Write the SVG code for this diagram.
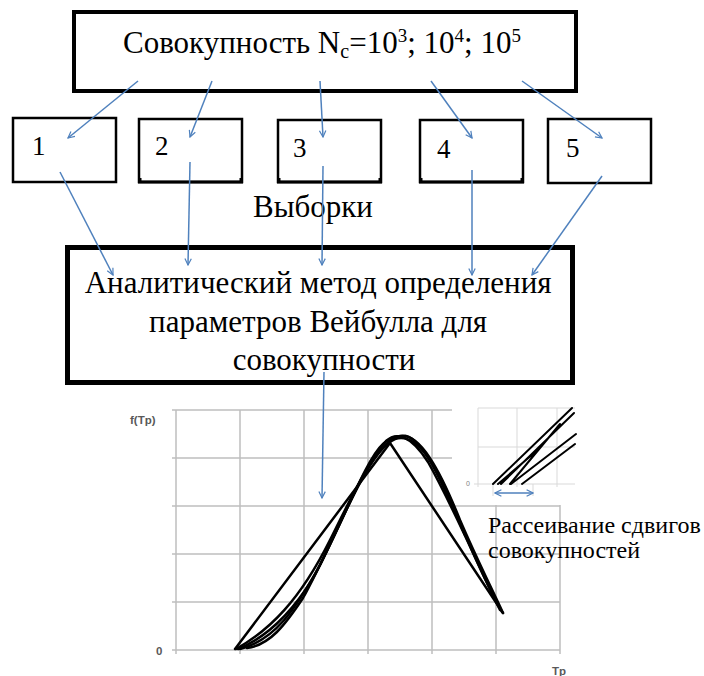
<svg xmlns="http://www.w3.org/2000/svg" width="704" height="676" viewBox="0 0 704 676">
<style>
.ser{font-family:'Liberation Serif','Times New Roman',serif;fill:#000}
.box{fill:#fff;stroke:#000}
.con{fill:none;stroke:#4f81bd;stroke-width:1.5}
.grid{fill:none;stroke:#bfbfbf;stroke-width:1.5}
.igrid{fill:none;stroke:#d9d9d9;stroke-width:1}
.crv{fill:none;stroke:#000;stroke-width:2.5;stroke-linejoin:round;stroke-linecap:round}
.ax{font-family:'Liberation Sans',Arial,sans-serif;font-weight:bold;fill:#595959}
</style>
<defs>
<marker id="ah" viewBox="0 0 10 10" refX="9" refY="5" markerWidth="8" markerHeight="8" orient="auto-start-reverse" markerUnits="userSpaceOnUse">
<path d="M1,1 L9,5 L1,9" fill="none" stroke="#4f81bd" stroke-width="1.5"/>
</marker>
</defs>
<rect width="704" height="676" fill="#fff"/>

<g id="top">
<rect class="box" x="74" y="12" width="502" height="79" stroke-width="4"/>
<text class="ser" font-family="Liberation Serif, Times New Roman, serif" x="123" y="53" font-size="31">Совокупность N<tspan font-size="20" dy="5">c</tspan><tspan dy="-5">=10</tspan><tspan font-size="19" dy="-11">3</tspan><tspan dy="11">; 10</tspan><tspan font-size="19" dy="-11">4</tspan><tspan dy="11">; 10</tspan><tspan font-size="19" dy="-11">5</tspan></text>
</g>

<g id="s1">
<rect class="box" x="13" y="118" width="103" height="64" stroke-width="2.5"/>
<text class="ser" font-family="Liberation Serif, Times New Roman, serif" x="32" y="155" font-size="27">1</text>
</g>
<g id="s2">
<rect class="box" x="139" y="119" width="103" height="63" stroke-width="2.5"/>
<path d="M138,182 H243 M140,178 V182 M241,178 V182" stroke="#000" stroke-width="3" fill="none"/>
<text class="ser" font-family="Liberation Serif, Times New Roman, serif" x="155" y="155" font-size="27">2</text>
</g>
<g id="s3">
<rect class="box" x="278" y="120" width="103" height="62" stroke-width="2.5"/>
<path d="M277,182 H382 M279,178 V182 M380,178 V182" stroke="#000" stroke-width="3" fill="none"/>
<text class="ser" font-family="Liberation Serif, Times New Roman, serif" x="293" y="157" font-size="27">3</text>
</g>
<g id="s4">
<rect class="box" x="420" y="120" width="103" height="62" stroke-width="2.5"/>
<path d="M419,182 H524 M421,178 V182 M522,178 V182" stroke="#000" stroke-width="3" fill="none"/>
<text class="ser" font-family="Liberation Serif, Times New Roman, serif" x="437" y="158" font-size="27">4</text>
</g>
<g id="s5">
<rect class="box" x="548" y="119" width="103" height="64" stroke-width="2.5"/>
<text class="ser" font-family="Liberation Serif, Times New Roman, serif" x="566" y="157" font-size="27">5</text>
</g>

<text id="samples" class="ser" font-family="Liberation Serif, Times New Roman, serif" x="253" y="217" font-size="31">Выборки</text>

<g id="method">
<rect class="box" x="67.5" y="247.5" width="505" height="135" stroke-width="5"/>
<text class="ser" font-family="Liberation Serif, Times New Roman, serif" font-size="31" text-anchor="middle">
<tspan x="322" y="293">Аналитический метод определения</tspan>
<tspan x="322" y="332">параметров Вейбулла для</tspan>
<tspan x="324" y="370">совокупности</tspan>
</text>
</g>

<g id="chart">
<path class="grid" d="M176,410 V654 M240,410 V654 M304,410 V654 M368,410 V654 M432,410 V654 M496,505 V654 M560,505 V654 M172,410 H452 M172,458 H452 M172,506 H560 M172,554 H560 M172,602 H560 M172,650 H560"/>
<text class="ax" x="130" y="424" font-size="11.5">f(Tp)</text>
<text class="ax" x="156" y="655" font-size="11.5">0</text>
<text class="ax" x="552" y="675" font-size="11.5">Tp</text>
<path class="crv" d="M235,649 L390,443 L503,613"/>
<path class="crv" d="M236,649 C270,630 300,600 330,540 C355,490 378,440 400,436 C420,433 440,470 460,520 C475,555 490,585 503,613"/>
<path class="crv" d="M240,649 C275,640 295,610 320,565 C345,515 370,450 395,439 C415,432 435,460 455,510 C475,560 490,590 502,612"/>
<path class="crv" d="M247,648 C270,645 285,625 303,598 C330,550 360,470 386,441 C396,432 410,434 428,462 C455,510 480,570 500,610"/>
<path class="crv" d="M238,649 C265,638 290,615 312,580 C340,530 365,460 383,444 C392,436 398,436 406,436 C425,440 445,490 465,535"/>
</g>

<g id="inset">
<path class="igrid" d="M478,408 V487 M517,408 V487 M557,408 V487 M478,408 H575 M478,447 H575 M474,484 H575 M493,484 V496 M533,484 V496"/>
<text x="466" y="486" font-family="Liberation Sans, Arial, sans-serif" font-size="7" fill="#808080">0</text>
<path d="M493,484 L572,408 M501,484 L574,413 M511,484 L576,434 M522,484 L575,444 M510,484 L560,424 M498,484 L540,448" stroke="#000" stroke-width="2" fill="none" stroke-linecap="round"/>
</g>

<g id="scatter">
<text class="ser" font-family="Liberation Serif, Times New Roman, serif" font-size="24"><tspan x="488" y="533">Рассеивание сдвигов</tspan><tspan x="488" y="558">совокупностей</tspan></text>
</g>

<g id="connectors">
<line class="con" x1="138" y1="81" x2="68" y2="138" marker-end="url(#ah)"/>
<line class="con" x1="212" y1="81" x2="190" y2="137" marker-end="url(#ah)"/>
<line class="con" x1="320" y1="81" x2="323" y2="137" marker-end="url(#ah)"/>
<line class="con" x1="431" y1="81" x2="472" y2="138" marker-end="url(#ah)"/>
<line class="con" x1="522" y1="81" x2="602" y2="138" marker-end="url(#ah)"/>
<line class="con" x1="60" y1="172" x2="113" y2="275" marker-end="url(#ah)"/>
<line class="con" x1="190" y1="162" x2="188" y2="265" marker-end="url(#ah)"/>
<line class="con" x1="323" y1="166" x2="322" y2="265" marker-end="url(#ah)"/>
<line class="con" x1="472" y1="170" x2="472" y2="275" marker-end="url(#ah)"/>
<line class="con" x1="602" y1="176" x2="532" y2="275" marker-end="url(#ah)"/>
<line class="con" x1="324" y1="372" x2="322" y2="498" marker-end="url(#ah)"/>
<line class="con" x1="495" y1="493" x2="533" y2="493" marker-start="url(#ah)" marker-end="url(#ah)"/>
</g>
</svg>
